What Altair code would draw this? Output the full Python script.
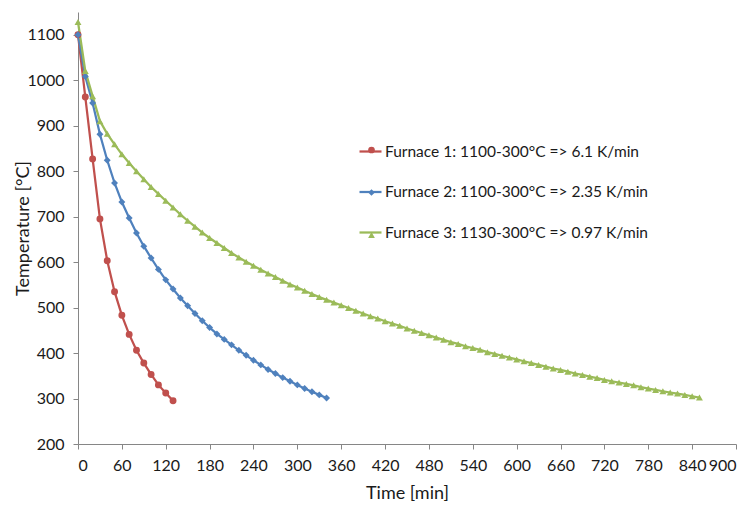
import altair as alt
import pandas as pd

series_names = [
    "Furnace 1: 1100-300°C => 6.1 K/min",
    "Furnace 2: 1100-300°C => 2.35 K/min",
    "Furnace 3: 1130-300°C => 0.97 K/min",
]
furnace1_time = list(range(0, 131, 10))
furnace1_temp = [1100, 963, 827, 695, 603, 535, 483, 441, 406, 378, 353, 330, 312, 295]

furnace2_time = list(range(0, 341, 10))
furnace2_temp = [1100, 1008, 950, 881, 824, 774, 732, 697, 664, 635,
                 609, 584, 561, 541, 521, 504, 487, 471, 456, 442,
                 430, 418, 406, 395, 384, 374, 364, 355, 346, 338,
                 330, 322, 315, 308, 301]

furnace3_time = list(range(0, 851, 10))
furnace3_temp = [1128, 1020, 965, 910, 882, 859, 837, 818, 800, 782,
                 765, 750, 735, 720, 705, 691, 678, 665, 653, 642,
                 631, 620, 610, 601, 592, 583, 575, 567, 559, 551,
                 544, 537, 530, 523, 517, 511, 505, 499, 493, 487,
                 481, 476, 470, 465, 460, 454, 449, 444, 439, 434,
                 429, 424, 420, 415, 411, 407, 402, 398, 394, 390,
                 386, 382, 378, 374, 370, 366, 363, 359, 355, 352,
                 348, 345, 341, 338, 335, 332, 329, 325, 322, 319,
                 316, 313, 311, 308, 305, 302]

x_ticks = list(range(0, 901, 60))
y_ticks = list(range(200, 1101, 100))
colors = ["#C0504D", "#4F81BD", "#9BBB59"]
shapes = ["circle", "diamond", "triangle-up"]

rows = []
for name, ts, vs in zip(series_names,
                        [furnace1_time, furnace2_time, furnace3_time],
                        [furnace1_temp, furnace2_temp, furnace3_temp]):
    for t, v in zip(ts, vs):
        rows.append({"t": t, "T": v, "series": name})
df = pd.DataFrame(rows)

FONT = "Lato"
TXT = "#1a1a1a"
AX = "#868686"

x_enc = alt.X(
    "t:Q",
    scale=alt.Scale(domain=[0, 900], nice=False),
    axis=alt.Axis(values=x_ticks, title="Time [min]", titleBaseline="alphabetic",
                  titleY=54, labelPadding=8, tickSize=5, format="d"),
)
y_enc = alt.Y(
    "T:Q",
    scale=alt.Scale(domain=[200, 1150], nice=False, zero=False),
    axis=alt.Axis(values=y_ticks, title="Temperature [°C]", titleBaseline="alphabetic",
                  titleX=-50, labelPadding=9, tickSize=5, format="d"),
)

leg_lines = alt.Legend(
    title=None, orient="none", legendX=280, legendY=127, symbolType="stroke",
    symbolSize=484, symbolStrokeWidth=2.25, labelFont=FONT, labelFontSize=15.5,
    labelColor=TXT, labelOffset=2, rowPadding=19.5, padding=0, labelLimit=500,
)
leg_marks = alt.Legend(
    title=None, orient="none", legendX=286, legendY=130.5,
    symbolSize=45, labelFont=FONT, labelFontSize=15, labelExpr="''",
    labelOffset=2, rowPadding=26.5, padding=0, labelLimit=500,
)

base = alt.Chart(df)

lines = base.mark_line(strokeWidth=2.25).encode(
    x=x_enc, y=y_enc,
    stroke=alt.Stroke("series:N", scale=alt.Scale(range=colors), legend=leg_lines),
)

points = base.transform_calculate(s2="datum.series").mark_point(
    filled=True, size=48, opacity=1
).encode(
    x=x_enc, y=y_enc,
    color=alt.Color("s2:N", scale=alt.Scale(range=colors), legend=leg_marks),
    shape=alt.Shape("s2:N", scale=alt.Scale(range=shapes), legend=leg_marks),
)

chart = alt.layer(lines, points).properties(
    width=658, height=432,
    padding={"left": 78, "top": 12, "right": 17, "bottom": 61},
    autosize="none",
    background="white",
).configure_view(stroke=None).configure_axis(
    grid=False, domainColor=AX, tickColor=AX, domainWidth=1, tickWidth=1,
    labelFont=FONT, labelFontSize=16, labelColor=TXT,
    titleFont=FONT, titleFontSize=18, titleFontWeight="normal", titleColor=TXT,
)

chart.save("out.html", embed_options={"renderer": "svg", "actions": False})
